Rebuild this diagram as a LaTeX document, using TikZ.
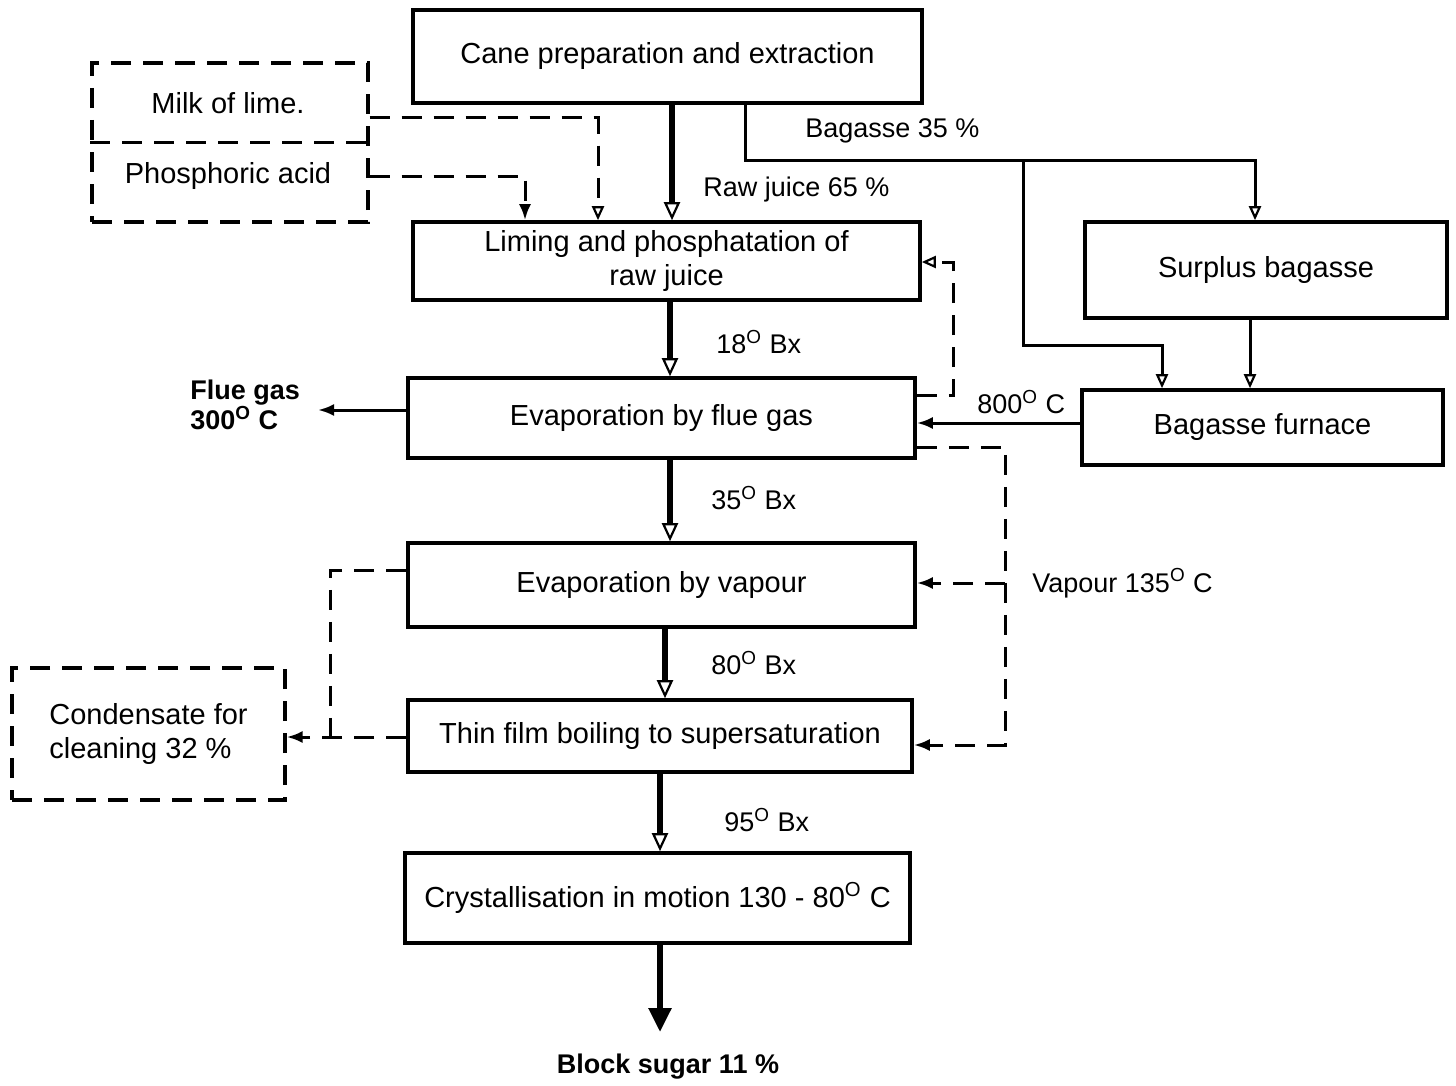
\documentclass[tikz,border=0pt]{standalone}
\usepackage{fontspec}
\setmainfont{Liberation Sans}
\usetikzlibrary{arrows.meta}
\begin{document}
\begin{tikzpicture}[x=0.5pt,y=-0.5pt,
  box/.style={draw, line width=1.8pt, inner sep=0pt, align=center, font=\fontsize{14.5}{17}\selectfont},
  dbox/.style={box, line width=1.6pt, dash pattern=on 10pt off 6pt},
  lbl/.style={font=\fontsize{13.5}{16}\selectfont, inner sep=0pt},
  flow/.style={line width=2.8pt, -{Triangle[open, length=9pt, width=8pt, line width=1.1pt]}},
  thinl/.style={line width=1.5pt},
  openarr/.style={-{Triangle[open, length=7pt, width=6pt, line width=1.1pt]}},
  tarr/.style={thinl, openarr},
  farr/.style={-{Latex[length=8pt, width=6pt]}},
  dsh/.style={line width=1.5pt, dash pattern=on 10pt off 6pt},
  bigarr/.style={line width=2.8pt, -{Triangle[length=12pt, width=11pt]}}
]
\useasboundingbox (0,0) rectangle (1456,1086);

% process boxes
\node[box, minimum width=254.5pt, minimum height=46.5pt] (cane) at (667.5,56.5) {Cane preparation and extraction};
\node[box, minimum width=253.5pt, minimum height=39pt] (lim) at (666.5,261) {Liming and phosphatation of\\raw juice};
\node[box, minimum width=253.5pt, minimum height=40pt] (ef) at (661.5,418) {Evaporation by flue gas};
\node[box, minimum width=253.5pt, minimum height=42pt] (ev) at (661.5,585) {Evaporation by vapour};
\node[box, minimum width=252pt, minimum height=36pt] (tf) at (660,736) {Thin film boiling to supersaturation};
\node[box, minimum width=252.5pt, minimum height=45pt] (cr) at (657.5,898) {Crystallisation in motion 130 - 80\textsuperscript{O} C};
\node[box, minimum width=181pt, minimum height=48pt] (sb) at (1266,270) {Surplus bagasse};
\node[box, minimum width=180.5pt, minimum height=37.5pt] (bf) at (1262.5,427.5) {Bagasse furnace};

% dashed boxes
\node[dbox, minimum width=138pt, minimum height=79.5pt] (chem) at (230,142.5) {};
\node[lbl, font=\fontsize{14.5}{17}\selectfont] (milk) at (228,103) {Milk of lime.};
\node[lbl, font=\fontsize{14.5}{17}\selectfont] (phos) at (228,176) {Phosphoric acid};
\draw[dsh] (chem.west |- 0,143) -- (chem.east |- 0,143);
\node[dbox, minimum width=136.5pt, minimum height=66pt, align=left] (cond) at (148.5,734) {Condensate for\\cleaning 32 \%};

% labels
\node[lbl, anchor=west] (rawj) at (703,190) {Raw juice 65 \%};
\node[lbl, anchor=west] (bag) at (805,131) {Bagasse 35 \%};
\node[lbl, anchor=west] (bx18) at (716,342) {18\textsuperscript{O} Bx};
\node[lbl, anchor=west] (bx35) at (711,498) {35\textsuperscript{O} Bx};
\node[lbl, anchor=west] (bx80) at (711,663) {80\textsuperscript{O} Bx};
\node[lbl, anchor=west] (bx95) at (724,820) {95\textsuperscript{O} Bx};
\node[lbl, anchor=west] (t800) at (977,402) {800\textsuperscript{O} C};
\node[lbl, anchor=west] (vap) at (1032,583) {Vapour 135\textsuperscript{O} C};
\node[lbl, anchor=west, align=left, font=\fontsize{13.5}{15}\selectfont\bfseries] (flue) at (190,405) {Flue gas\\300\textsuperscript{O} C};
\node[lbl, font=\fontsize{13.5}{16}\selectfont\bfseries] (sugar) at (668,1067) {Block sugar 11 \%};
\coordinate (fluetip) at (318,410);
\coordinate (sugartip) at (660,1032);

% main flow
\draw[flow] (672,0 |- cane.south) -- (672,0 |- lim.north);
\draw[flow] (670,0 |- lim.south) -- (670,0 |- ef.north);
\draw[flow] (670,0 |- ef.south) -- (670,0 |- ev.north);
\draw[flow] (665,0 |- ev.south) -- (665,0 |- tf.north);
\draw[flow] (660,0 |- tf.south) -- (660,0 |- cr.north);
\draw[bigarr] (660,0 |- cr.south) -- (sugartip);

% bagasse
\draw[tarr] (745,0 |- cane.south) -- (745,160) -- (1255,160) -- (1255,0 |- sb.north);
\draw[tarr] (1023,160) -- (1023,345) -- (1162,345) -- (1162,0 |- bf.north);
\draw[tarr] (1250,0 |- sb.south) -- (1250,0 |- bf.north);
\draw[thinl, farr] (bf.west |- 0,423) -- (ef.east |- 0,423);
\draw[thinl, farr] (ef.west |- 0,410) -- (fluetip);

% chemicals
\draw[dsh, openarr] (chem.east |- 0,118) -- (598,118) -- (598,0 |- lim.north);
\draw[dsh, farr] (chem.east |- 0,176) -- (525,176) -- (525,0 |- lim.north);

% dashed feedback
\draw[dsh, openarr] (ef.east |- 0,395) -- (953,395) -- (953,262) -- (lim.east |- 0,262);
\draw[dsh, farr] (ef.east |- 0,447) -- (1005,447) -- (1005,745) -- (tf.east |- 0,745);
\draw[dsh, farr] (1005,583) -- (ev.east |- 0,583);

% condensate
\draw[dsh] (ev.west |- 0,570) -- (330,570) -- (330,737);
\draw[dsh, farr] (tf.west |- 0,737) -- (cond.east |- 0,737);
\end{tikzpicture}
\end{document}
